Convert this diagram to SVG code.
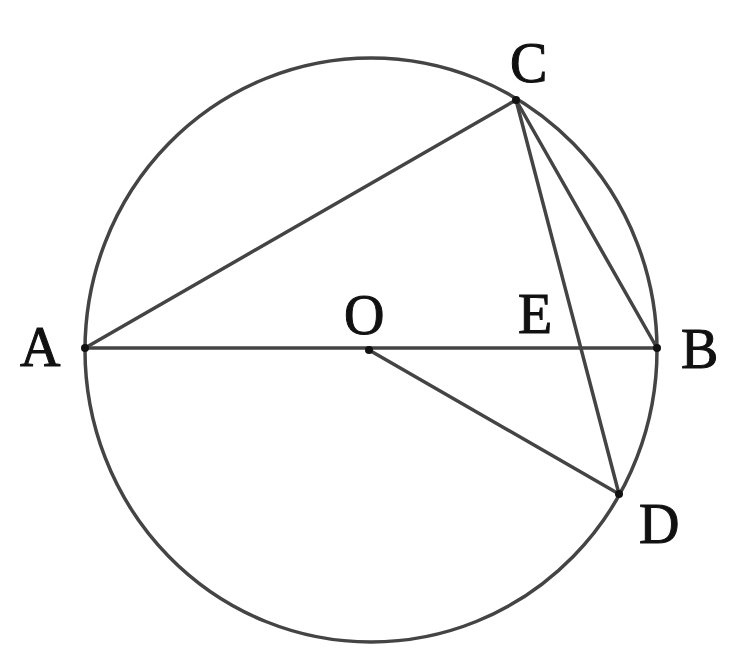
<svg xmlns="http://www.w3.org/2000/svg" width="749" height="664" viewBox="0 0 749 664">
<style>
.l{stroke:#444;stroke-width:3.5;fill:none;stroke-linecap:round}
.p{fill:#111}
.t{font-family:"Liberation Serif",serif;font-size:56px;fill:#111;stroke:#111;stroke-width:1}
</style>
<rect width="749" height="664" fill="#fff"/>
<g id="connectors">
<ellipse id="circle" class="l" cx="371" cy="350" rx="286" ry="292"/>
<line class="l" x1="85" y1="348" x2="657" y2="348"/>
<line class="l" x1="85" y1="348" x2="516" y2="100"/>
<line class="l" x1="516" y1="100" x2="619" y2="494"/>
<line class="l" x1="516" y1="100" x2="657" y2="348"/>
<line class="l" x1="369" y1="350" x2="619" y2="494"/>
</g>
<g id="A"><circle class="p" cx="85" cy="348" r="4"/><text class="t" x="20" y="366">A</text></g>
<g id="B"><circle class="p" cx="657" cy="348" r="4"/><text class="t" x="681" y="368">B</text></g>
<g id="C"><circle class="p" cx="516" cy="100" r="4"/><text class="t" x="510" y="82">C</text></g>
<g id="D"><circle class="p" cx="619" cy="494" r="4"/><text class="t" x="639" y="543">D</text></g>
<g id="O"><circle class="p" cx="369" cy="350" r="4"/><text class="t" x="344" y="334">O</text></g>
<g id="E"><text class="t" x="518" y="333">E</text></g>
</svg>
